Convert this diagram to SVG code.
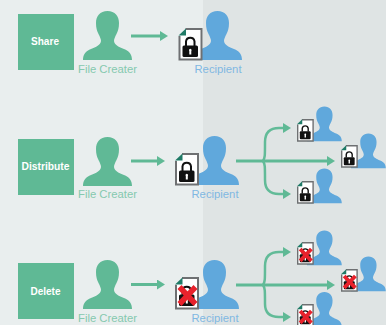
<svg xmlns="http://www.w3.org/2000/svg" width="386" height="325" viewBox="0 0 386 325">
<style>
.box{fill:#5fb995}
.boxt{fill:#fff;font:bold 11px "Liberation Sans",Arial,sans-serif;text-anchor:middle}
.lab{font:11.3px "Liberation Sans",Arial,sans-serif;text-anchor:middle}
.g{fill:#85c9ae}.b{fill:#7fb8e2}
.pg{fill:#60b996}.pb{fill:#60a8dc}
.c{fill:none;stroke:#5fb995;stroke-width:3;marker-end:url(#a)}
.c2{fill:none;stroke:#62bb98;stroke-width:2.500;marker-end:url(#a2)}
</style>
<defs>
<marker id="a" markerUnits="userSpaceOnUse" markerWidth="9" markerHeight="10" refX="1" refY="5" orient="auto"><path d="M0 0L8 5L0 10Z" fill="#5fb995"/></marker>
<marker id="a2" markerUnits="userSpaceOnUse" markerWidth="9" markerHeight="10" refX="1" refY="5" orient="auto"><path d="M0 0L8 5L0 10Z" fill="#5fb995"/></marker>
<path id="person" d="M24.500 0C32 0 36 5 36 12C36 17 35 20 33.500 23C32 26 31 28 31 30C31.500 34 36 36 41 38C46 40 49 43 49 49L0 49C0 43 3 40 8 38C13 36 17.500 34 18 30C18 28 17 26 15.500 23C14 20 13 17 13 12C13 5 17 0 24.500 0Z"/>
<g id="doc">
<path d="M7 1H23V31.500H1V8" fill="#fff" stroke="#6e7072" stroke-width="2"/>
<path d="M0 7.500L7.500 .5V7.500Z" fill="#1f7a66"/>
<rect x="4" y="17.500" width="15.500" height="11.500" rx="1.500" fill="#111"/>
<path d="M7.500 18V13.500A4.300 4.300 0 0 1 16 13.500V18" fill="none" stroke="#111" stroke-width="2"/>
<path d="M10.800 23A1.300 1.300 0 1 1 12.800 23V26.500H10.800Z" fill="#fff"/>
</g>
<path id="x" d="M4.500 10L20.500 27M20.500 10L4.500 27" fill="none" stroke="#e8222c" stroke-width="5.500"/>
</defs>
<rect width="386" height="325" fill="#e9eeee"/>
<rect x="203" width="183" height="325" fill="#dfe4e4"/>
<g id="connectors">
<path class="c" d="M131 36H161"/>
<path class="c" d="M131 161H158"/>
<path class="c" d="M131 284.500H158"/>
<path class="c" d="M236 161H328"/>
<path class="c2" d="M263 161C265 158 265 156 265 142Q265 128 279 128H284"/>
<path class="c2" d="M263 161C265 164 265 166 265 180Q265 194 279 194H284"/>
<path class="c" d="M236 285H328"/>
<path class="c2" d="M263 285C265 282 265 280 265 266Q265 252 279 252H284"/>
<path class="c2" d="M263 285C265 288 265 290 265 304Q265 317 279 317H284"/>
</g>
<g id="share"><rect class="box" x="18" y="14" width="56" height="56"/><text class="boxt" x="45" y="45" textLength="28" lengthAdjust="spacingAndGlyphs">Share</text></g>
<g id="distribute"><rect class="box" x="18" y="139" width="56" height="56"/><text class="boxt" x="45.500" y="170" textLength="48" lengthAdjust="spacingAndGlyphs">Distribute</text></g>
<g id="delete"><rect class="box" x="18" y="263" width="56" height="56"/><text class="boxt" x="45.500" y="295" textLength="30" lengthAdjust="spacingAndGlyphs">Delete</text></g>
<g id="creator1"><use href="#person" class="pg" x="83" y="11"/><text class="lab g" x="107.500" y="73">File Creater</text></g>
<g id="creator2"><use href="#person" class="pg" x="83" y="137"/><text class="lab g" x="107.500" y="198">File Creater</text></g>
<g id="creator3"><use href="#person" class="pg" x="83" y="260"/><text class="lab g" x="107.500" y="322">File Creater</text></g>
<g id="recipient1"><use href="#person" class="pb" x="193" y="11"/><use href="#doc" x="178.500" y="28"/><text class="lab b" x="218" y="73">Recipient</text></g>
<g id="recipient2"><use href="#person" class="pb" x="190" y="136"/><use href="#doc" x="175" y="153"/><text class="lab b" x="215" y="198">Recipient</text></g>
<g id="recipient3"><use href="#person" class="pb" x="190" y="260"/><use href="#doc" x="175" y="277"/><use href="#x" x="175" y="277"/><text class="lab b" x="215" y="322">Recipient</text></g>
<g id="r2a"><use href="#person" class="pb" transform="translate(307 106.500) scale(.71)"/><use href="#doc" transform="translate(297 119) scale(.7)"/></g>
<g id="r2b"><use href="#person" class="pb" transform="translate(351 133.500) scale(.71)"/><use href="#doc" transform="translate(341 145) scale(.7)"/></g>
<g id="r2c"><use href="#person" class="pb" transform="translate(307 168.500) scale(.71)"/><use href="#doc" transform="translate(297 181) scale(.7)"/></g>
<g id="r3a"><use href="#person" class="pb" transform="translate(307 230.500) scale(.71)"/><use href="#doc" transform="translate(297 242) scale(.7)"/><use href="#x" transform="translate(297 242) scale(.7)"/></g>
<g id="r3b"><use href="#person" class="pb" transform="translate(351 256.500) scale(.71)"/><use href="#doc" transform="translate(341 269) scale(.7)"/><use href="#x" transform="translate(341 269) scale(.7)"/></g>
<g id="r3c"><use href="#person" class="pb" transform="translate(307 292) scale(.71)"/><use href="#doc" transform="translate(297 304) scale(.7)"/><use href="#x" transform="translate(297 304) scale(.7)"/></g>
</svg>
